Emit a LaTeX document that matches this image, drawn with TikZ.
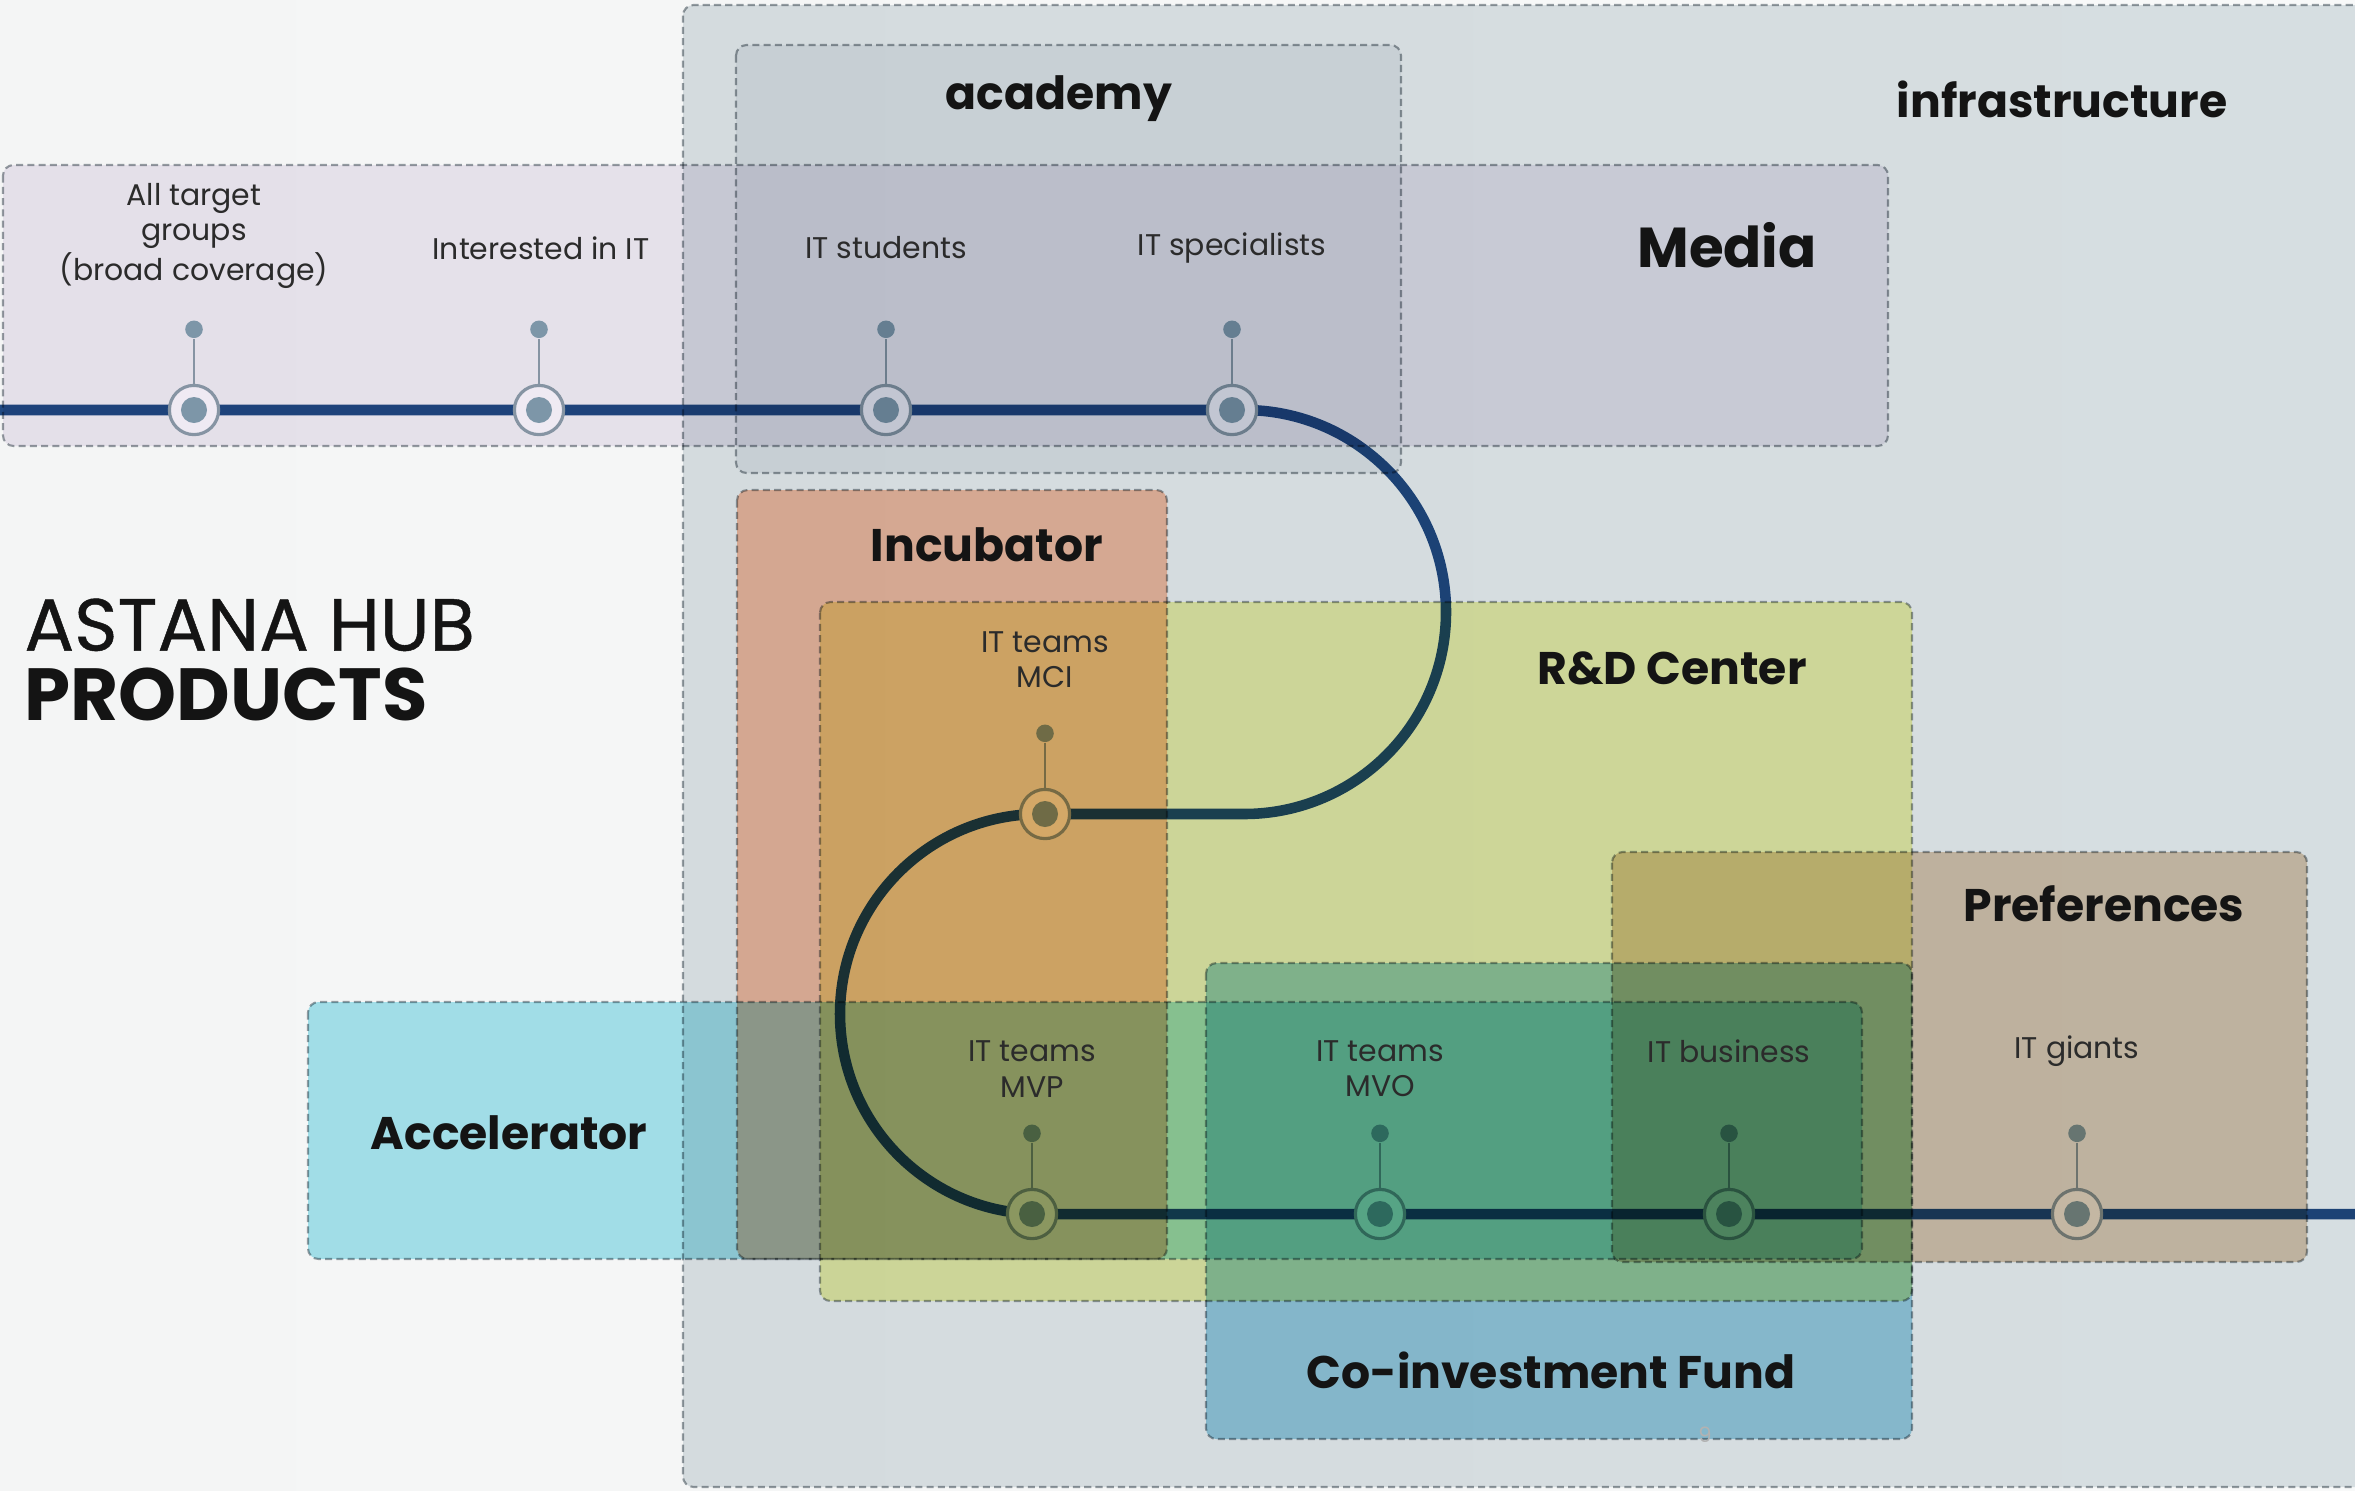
\documentclass[tikz,border=0pt]{standalone}
\usepackage{fontspec}
\setmainfont{Poppins}
\usetikzlibrary{positioning}

\definecolor{bgl}{HTML}{F4F5F5}
\definecolor{bgr}{HTML}{F8F9F9}
\definecolor{navy}{HTML}{214A82}
\definecolor{ringcol}{HTML}{8FA2AC}
\definecolor{dotcol}{HTML}{86A4B1}
\definecolor{zoneline}{HTML}{9AA1A6}
\definecolor{infracol}{HTML}{DDE4E7}
\definecolor{mediacol}{HTML}{EFEAF3}
\definecolor{acadcol}{HTML}{F0F2F4}
\definecolor{incucol}{HTML}{FFC3A7}
\definecolor{rdcol}{HTML}{F5F7AE}
\definecolor{prefcol}{HTML}{E3CDB5}
\definecolor{fundcol}{HTML}{9FD4E8}
\definecolor{accelcol}{HTML}{A8E6F0}
\definecolor{txt}{HTML}{2B2B2B}
\definecolor{headtxt}{HTML}{141414}

\begin{document}
\begin{tikzpicture}[x=0.01cm, y=-0.01cm,
  zone/.style={draw=zoneline, dash pattern=on 2pt off 1.2pt, line width=0.6pt, rounded corners=3pt},
  stage/.style={circle, draw=ringcol, line width=0.9pt, fill=white, minimum size=14pt, inner sep=0pt,
    path picture={\fill[dotcol] (path picture bounding box.center) circle (3.7pt);}},
  pin/.style={circle, fill=dotcol, minimum size=5pt, inner sep=0pt},
  stem/.style={draw=ringcol, line width=0.5pt},
  lbl/.style={font=\fontsize{8.5}{10}\selectfont, text=txt, align=center},
  head/.style={font=\fontsize{13}{15}\selectfont\bfseries, text=headtxt}]

\useasboundingbox (0,0) rectangle (2355,1490);
\shade[left color=bgl, right color=bgr] (0,0) rectangle (2355,1490);

% the track
\draw[navy, line width=3pt] (0,410) -- (1244,410) arc(-90:90:202) -- (1040,814)
  arc(-90:-270:200) -- (2380,1214);

% stages on the track
\node[stage] (all) at (194,410) {};
\node[stage] (interest) at (539,410) {};
\node[stage] (students) at (886,410) {};
\node[stage] (special) at (1232,410) {};
\node[stage] (mci) at (1045,814) {};
\node[stage] (mvp) at (1032,1214) {};
\node[stage] (mvo) at (1380,1214) {};
\node[stage] (business) at (1729,1214) {};
\node[stage] (giants) at (2077,1214) {};

\foreach \s in {all,interest,students,special,mci,mvp,mvo,business,giants}{
  \node[pin, above=12.8pt of \s] (\s-pin) {};
  \draw[stem] (\s) -- (\s-pin);
}

% zones
\begin{scope}[blend mode=multiply]
\draw[zone, fill=infracol] (683,5) rectangle (2400,1487);
\draw[zone, fill=mediacol] (3,165) rectangle (1888,446);
\draw[zone, fill=acadcol] (736,45) rectangle (1401,473);
\draw[zone, fill=incucol] (737,490) rectangle (1167,1259);
\draw[zone, fill=rdcol] (820,602) rectangle (1912,1301);
\draw[zone, fill=prefcol] (1612,852) rectangle (2307,1262);
\draw[zone, fill=fundcol] (1206,963) rectangle (1912,1439);
\draw[zone, fill=accelcol] (308,1002) rectangle (1862,1259);
\end{scope}

% zone titles
\node[head] (infra-t) at (2062,99) {infrastructure};
\node[head] (acad-t) at (1059,99) {academy};
\node[head, font=\fontsize{16}{18}\selectfont\bfseries] (media-t) at (1727,245) {Media};
\node[head] (incu-t) at (987,545) {Incubator};
\node[head] (rd-t) at (1672,668) {R\&D Center};
\node[head] (pref-t) at (2104,904) {Preferences};
\node[head] (fund-t) at (1551,1370) {Co-investment Fund};
\node[head] (accel-t) at (509,1133) {Accelerator};

\node[anchor=west, align=left, text=headtxt, font=\fontsize{21}{20}\selectfont] (title) at (12,660)
  {\addfontfeature{FakeBold=0.6}ASTANA HUB\\\textbf{PRODUCTS}};

% stage labels
\node[lbl] at (194,236) {All target\\groups\\(broad coverage)};
\node[lbl] at (541,248) {Interested in IT};
\node[lbl] at (886,248) {IT students};
\node[lbl] at (1232,248) {IT specialists};
\node[lbl] at (1045,660) {IT teams\\MCI};
\node[lbl] at (1032,1069) {IT teams\\MVP};
\node[lbl] at (1380,1069) {IT teams\\MVO};
\node[lbl] at (1729,1051) {IT business};
\node[lbl] at (2077,1051) {IT giants};

\node[text=gray!60, font=\fontsize{6}{7}\selectfont] (pg) at (1705,1435) {9};
\end{tikzpicture}
\end{document}
